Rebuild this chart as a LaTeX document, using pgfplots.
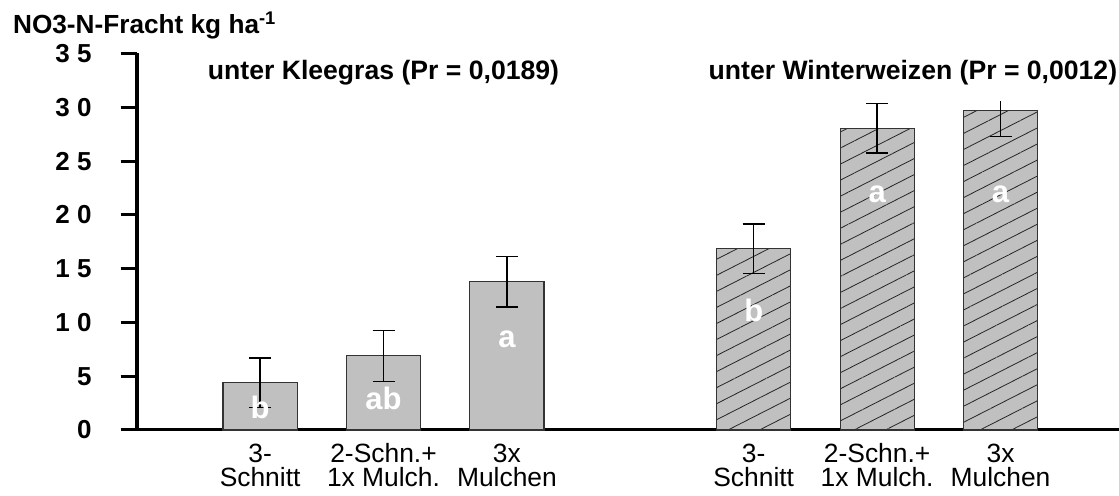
\documentclass[border=0pt]{standalone}
\usepackage{pgfplots}
\pgfplotsset{compat=1.18}
\usepackage{fontspec}
\setmainfont{Liberation Sans}
\usetikzlibrary{patterns.meta}
\definecolor{barfill}{HTML}{C0C0C0}
\definecolor{baredge}{HTML}{333333}
\newcommand\xlfont{\fontsize{13.2}{12}\selectfont\lineskiplimit=-20pt\relax}
\newcommand\st{\rule{0pt}{9.6pt}}
\begin{document}
\begin{tikzpicture}
\begin{axis}[
  at={(68.35pt,33pt)}, anchor=south west,
  scale only axis, width=491.15pt, height=188.25pt,
  xmin=-1, xmax=6.96, ymin=0, ymax=35,
  axis x line*=bottom, axis y line*=left,
  x axis line style={line width=1.5pt,-},
  y axis line style={line width=2pt,-},
  ytick={0,5,...,35},
  yticklabels={0,5,1 0,1 5,2 0,2 5,3 0,3 5},
  yticklabel style={font=\fontsize{13}{13}\selectfont\bfseries, xshift=-11pt},
  tick align=outside,
  major tick length=8pt,
  ytick style={line width=1.5pt, black},
  xtick={0,1,2,4,5,6},
  xticklabels={{\st 3-\\\st Schnitt},{\st 2-Schn.+\\\st 1x Mulch.},{\st 3x\\\st Mulchen},{\st 3-\\\st Schnitt},{\st 2-Schn.+\\\st 1x Mulch.},{\st 3x\\\st Mulchen}},
  xticklabel style={align=center, font=\xlfont, yshift=5pt},
  xtick style={draw=none},
  clip=false,
]
\addplot[ybar, bar shift=0pt, bar width=0.6, fill=barfill, draw=baredge, line width=0.6pt,
  error bars/.cd, y dir=both, y explicit,
  error bar style={line width=0.75pt, black},
  error mark options={rotate=90, line width=0.75pt, mark size=5.5pt, black}]
  table[x=x, y=y, y error=e] {
x y e
0 4.4 2.3
1 6.9 2.37
2 13.78 2.33
};
\addplot[ybar, bar shift=0pt, bar width=0.6, fill=barfill, draw=baredge, line width=0.6pt,
  postaction={pattern={Lines[angle=27, distance=7.15pt, line width=0.4pt]}, pattern color=black!85},
  error bars/.cd, y dir=both, y explicit,
  error bar style={line width=0.75pt, black},
  error mark options={rotate=90, line width=0.75pt, mark size=5.5pt, black}]
  table[x=x, y=y, y error=e] {
x y e
4 16.84 2.31
5 28.03 2.3
6 29.72 2.42
};
\fill[white] (axis cs:5.85,30.55) rectangle (axis cs:6.15,33.5);
\node[anchor=base, font=\fontsize{13.3}{13.3}\selectfont\bfseries] at (axis cs:1.0,32.6) {unter Kleegras (Pr = 0,0189)};
\node[anchor=base, font=\fontsize{13.3}{13.3}\selectfont\bfseries] at (axis cs:5.29,32.6) {unter Winterweizen (Pr = 0,0012)};
\begin{scope}[every node/.style={text=white, font=\fontsize{15.5}{15.5}\selectfont\bfseries}]
\node at (axis cs:0,2.1) {b};
\node at (axis cs:1,2.95) {ab};
\node at (axis cs:2,8.45) {a};
\node at (axis cs:4,11.1) {b};
\node at (axis cs:5,21.9) {a};
\node at (axis cs:6,21.9) {a};
\end{scope}
\end{axis}
\node[anchor=base west, inner sep=0pt, font=\fontsize{13.1}{13.1}\selectfont\bfseries] at (6.35pt,231.35pt) {NO3-N-Fracht kg ha\textsuperscript{-1}};
\pgfresetboundingbox
\path[use as bounding box] (0,0) rectangle (559.5pt,248pt);
\end{tikzpicture}
\end{document}
